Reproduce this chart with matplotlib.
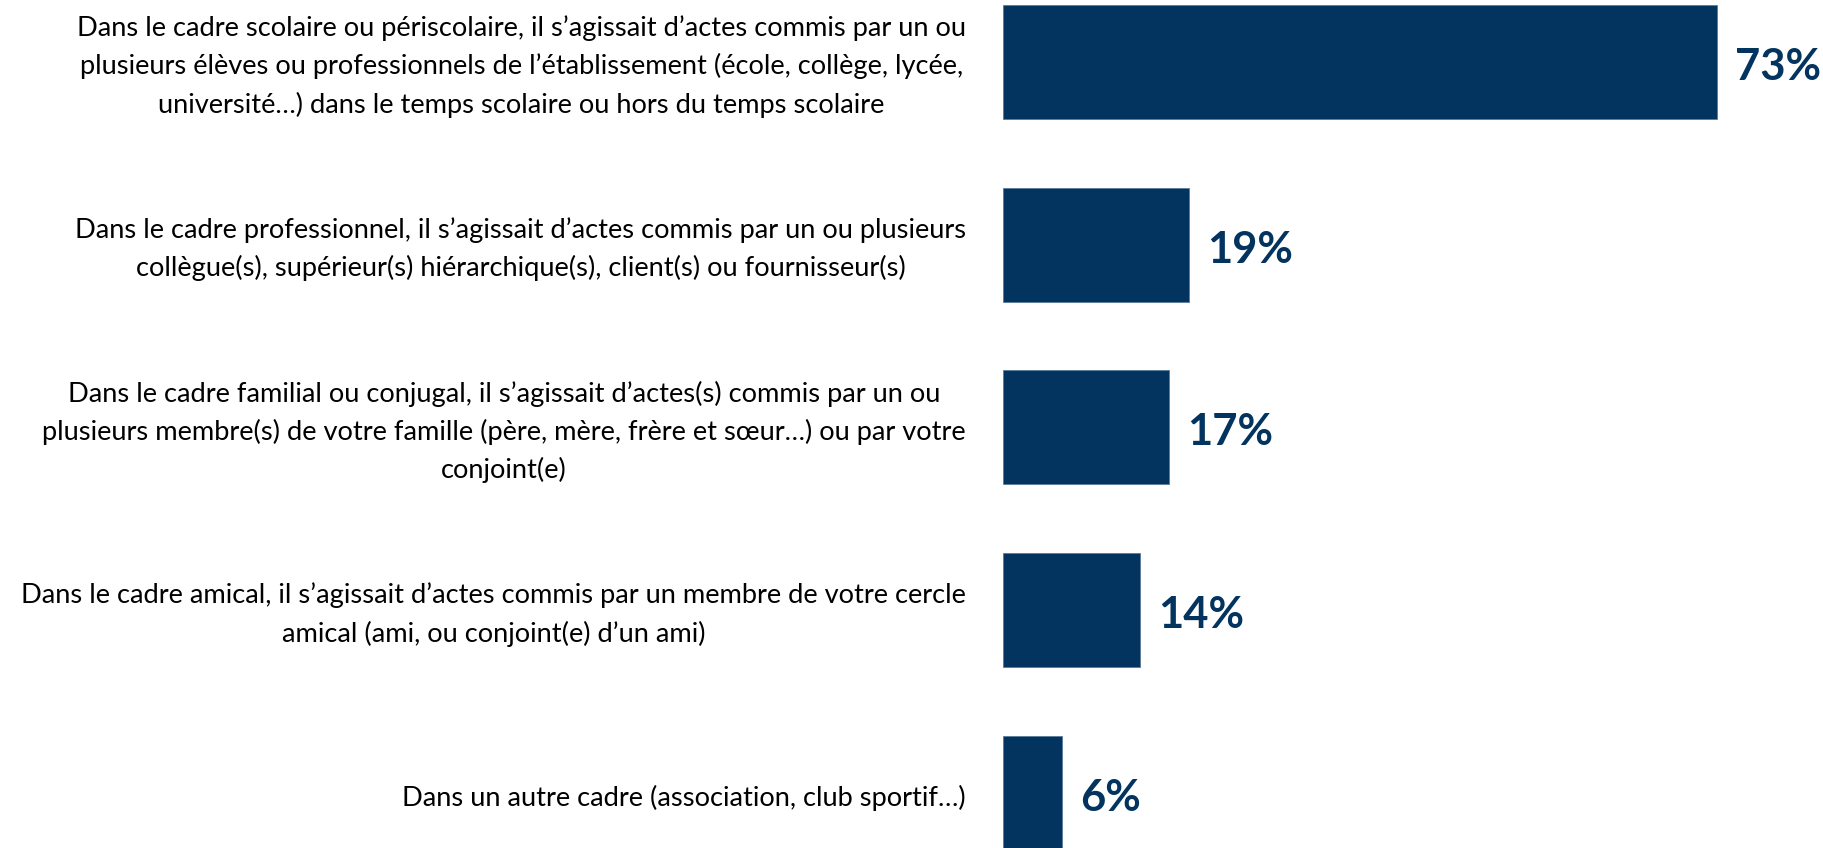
import matplotlib
matplotlib.use("Agg")
import matplotlib.pyplot as plt

categories = [
    "Dans le cadre scolaire ou périscolaire, il s\u2019agissait d\u2019actes commis par un ou\nplusieurs élèves ou professionnels de l\u2019établissement (école, collège, lycée,\nuniversité\u2026) dans le temps scolaire ou hors du temps scolaire",
    "Dans le cadre professionnel, il s\u2019agissait d\u2019actes commis par un ou plusieurs\ncollègue(s), supérieur(s) hiérarchique(s), client(s) ou fournisseur(s)",
    "Dans le cadre familial ou conjugal, il s\u2019agissait d\u2019actes(s) commis par un ou\nplusieurs membre(s) de votre famille (père, mère, frère et sœur\u2026) ou par votre\nconjoint(e)",
    "Dans le cadre amical, il s\u2019agissait d\u2019actes commis par un membre de votre cercle\namical (ami, ou conjoint(e) d\u2019un ami)",
    "Dans un autre cadre (association, club sportif\u2026)",
]
values = [73, 19, 17, 14, 6]
value_labels = ["73%", "19%", "17%", "14%", "6%"]

NAVY = "#02345F"
W, H = 1824, 848
fig = plt.figure(figsize=(W / 100, H / 100), dpi=100)
fig.patch.set_facecolor("white")

x0 = 1003
px_per_unit = 9.78
step = 182.8
ax = fig.add_axes([x0 / W, 0, 1 - x0 / W, 1])
ax.set_xlim(0, (W - x0) / px_per_unit)
ax.set_ylim(4 + (H - 793) / step, -61.7 / step)
ax.axis("off")

ypos = list(range(len(values)))
ax.barh(ypos, values, height=114 / step, color=NAVY, edgecolor="#5a7a9a", linewidth=0.6)

renderer = fig.canvas.get_renderer()

# fit font sizes to the reference widths
probe = fig.text(0, 0, categories[0].split("\n")[0], family="Lato", fontsize=20)
wprobe = probe.get_window_extent(renderer).width
probe.remove()
lab_fs = 20 * 892 / wprobe

probe = fig.text(0, 0, "73%", family="Lato", fontweight="bold", fontsize=30)
wprobe = probe.get_window_extent(renderer).width
probe.remove()
val_fs = 30 * 86 / wprobe

for i, (v, s) in enumerate(zip(values, value_labels)):
    ax.annotate(s, xy=(v, i), xytext=(18, -5), textcoords="offset pixels",
                ha="left", va="center", fontsize=val_fs, fontweight="bold",
                family="Lato", color=NAVY)

right_edge = 966
line_gap = 38.4
for i, lab in enumerate(categories):
    lines = lab.split("\n")
    widths = []
    for ln in lines:
        t = fig.text(0, 0, ln, family="Lato", fontsize=lab_fs)
        widths.append(t.get_window_extent(renderer).width)
        t.remove()
    cx = right_edge - max(widths) / 2
    n = len(lines)
    for k, ln in enumerate(lines):
        dy = -(k - (n - 1) / 2) * line_gap - 2
        dx = cx - x0
        ax.annotate(ln, xy=(0, i), xytext=(dx, dy), textcoords="offset pixels",
                    ha="center", va="center_baseline", fontsize=lab_fs,
                    family="Lato", color="black", annotation_clip=False)

fig.savefig("out.png", dpi=100, facecolor="white")
